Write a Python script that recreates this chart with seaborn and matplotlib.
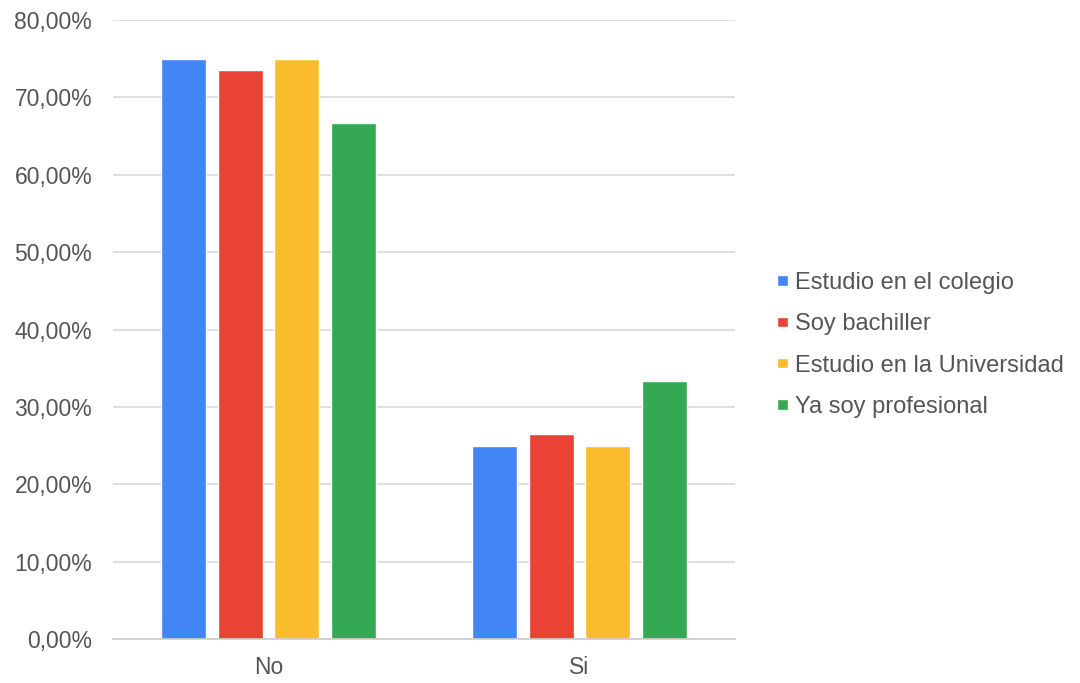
import matplotlib
matplotlib.use("Agg")
import matplotlib.pyplot as plt
import seaborn as sns
import pandas as pd
from matplotlib.ticker import FuncFormatter

categories = ["No", "Si"]
series = ["Estudio en el colegio", "Soy bachiller", "Estudio en la Universidad", "Ya soy profesional"]
values_no = [75.00, 73.53, 75.00, 66.67]
values_si = [25.00, 26.47, 25.00, 33.33]
colors = ["#4285F4", "#EA4335", "#FBBC2C", "#34A853"]

rows = []
for cat, vals in zip(categories, [values_no, values_si]):
    for s, v in zip(series, vals):
        rows.append({"cat": cat, "serie": s, "val": v})
df = pd.DataFrame(rows)

sns.set_theme(style="white")
plt.rcParams["font.family"] = ["Liberation Sans", "DejaVu Sans"]

fig = plt.figure(figsize=(10.8, 6.83), dpi=100)
ax = fig.add_axes([0.1046, 0.0644, 0.6806 - 0.1046, 0.9707 - 0.0644])

sns.barplot(data=df, x="cat", y="val", hue="serie", hue_order=series,
            palette=colors, width=0.726, gap=0.2, ax=ax, saturation=1,
            errorbar=None, legend=True)

ax.set_ylim(0, 80)
ax.set_xlim(-0.5, 1.5)
ax.set_yticks(range(0, 81, 10))
ax.yaxis.set_major_formatter(FuncFormatter(lambda v, p: f"{v:.2f}".replace(".", ",") + "%"))
ax.grid(axis="y", color="#d9d9d9", linewidth=1.2)
ax.set_axisbelow(True)
for sp in ["top", "right", "left"]:
    ax.spines[sp].set_visible(False)
ax.spines["bottom"].set_color("#cccccc")
ax.spines["bottom"].set_linewidth(1.2)
ax.tick_params(axis="y", length=0, pad=15, labelsize=16.5, labelcolor="#555555")
ax.tick_params(axis="x", length=0, pad=12, labelsize=16.5, labelcolor="#555555")
ax.set_xlabel("")
ax.set_ylabel("")

handles, labels = ax.get_legend_handles_labels()
if ax.legend_:
    ax.legend_.remove()
leg = fig.legend(handles, labels, loc="center left", bbox_to_anchor=(0.7195, 0.495),
                 frameon=False, fontsize=17, handlelength=0.45, handleheight=0.3,
                 handletextpad=0.32, labelspacing=0.82, borderpad=0, borderaxespad=0)
for t in leg.get_texts():
    t.set_color("#555555")

fig.savefig("out.png", dpi=100)
